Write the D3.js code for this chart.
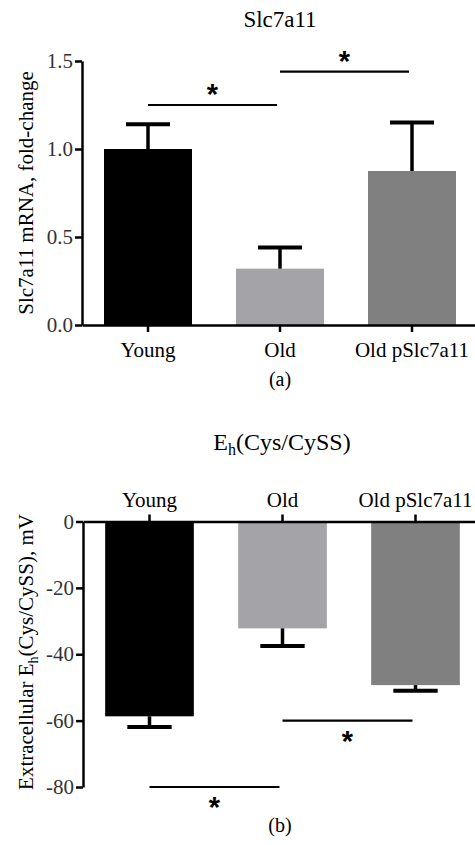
<!DOCTYPE html>
<html><head><meta charset="utf-8">
<script src="https://cdn.jsdelivr.net/npm/d3@7"></script>
<style>body{margin:0;background:#fff}svg{display:block}</style>
</head><body><div id="c"></div>
<script>
const groups = ["Young", "Old", "Old pSlc7a11"];
const colors = ["#000000", "#a4a4a8", "#808080"];
// Panel (a)
const mrnaMean = [1.0, 0.32, 0.875];
const mrnaErr = [1.14, 0.44, 1.15];
const mrnaTicks = [0, 0.5, 1.0, 1.5];
const mrnaSig = [{a: "Young", b: "Old", y: 1.25}, {a: "Old", b: "Old pSlc7a11", y: 1.44}];
// Panel (b)
const ehMean = [-58.7, -32.2, -49.3];
const ehErr = [-61.9, -37.5, -51.0];
const ehTicks = [0, -20, -40, -60, -80];
const ehSig = [{a: "Young", b: "Old", y: -80}, {a: "Old", b: "Old pSlc7a11", y: -60}];

const SERIF = "Liberation Serif";
const W = 475, H = 845;
const svg = d3.select("#c").append("svg").attr("width", W).attr("height", H)
  .attr("font-family", SERIF);

function panel(o) {
  const g = svg.append("g");
  const x = d3.scaleBand().domain(groups).range(o.xr).paddingInner(1/3).paddingOuter(1/6);
  const y = d3.scaleLinear().domain(o.yd).range(o.yr);
  const bw = x.bandwidth();
  g.selectAll("rect.bar").data(groups).join("rect")
    .attr("x", d => x(d)).attr("width", bw)
    .attr("y", (d, i) => Math.min(y(0), y(o.mean[i])))
    .attr("height", (d, i) => Math.abs(y(o.mean[i]) - y(0)))
    .attr("fill", (d, i) => colors[i]);
  groups.forEach((d, i) => {
    const cx = x(d) + bw / 2;
    g.append("line").attr("x1", cx).attr("x2", cx)
      .attr("y1", y(o.mean[i])).attr("y2", y(o.err[i]))
      .attr("stroke", "#000").attr("stroke-width", 3.5);
    g.append("line").attr("x1", cx - bw / 4).attr("x2", cx + bw / 4)
      .attr("y1", y(o.err[i])).attr("y2", y(o.err[i]))
      .attr("stroke", "#000").attr("stroke-width", 4);
  });
  const ya = g.append("g").attr("transform", `translate(${o.xr[0]},0)`)
    .call(d3.axisLeft(y).tickValues(o.ticks).tickFormat(o.fmt).tickSize(7).tickSizeOuter(0).tickPadding(2));
  ya.attr("font-family", SERIF);
  ya.select(".domain").attr("stroke-width", 2.5);
  ya.selectAll(".tick line").attr("stroke-width", 2.5);
  ya.selectAll(".tick text").attr("font-size", 21).attr("fill", "#333").attr("font-family", SERIF);
  const xa = g.append("g").attr("transform", `translate(0,${y(0)})`)
    .call((o.top ? d3.axisTop(x) : d3.axisBottom(x)).tickSize(7).tickSizeOuter(0).tickPadding(o.top ? 8 : 10));
  xa.attr("font-family", SERIF);
  xa.select(".domain").attr("stroke-width", 2.5);
  xa.selectAll(".tick line").attr("stroke-width", 2.5);
  xa.selectAll(".tick text").attr("font-size", 21).attr("fill", "#000").attr("font-family", SERIF);
  o.sig.forEach(s => {
    const x1 = x(s.a) + bw / 2, x2 = x(s.b) + bw / 2 - 3;
    g.append("line").attr("x1", x1).attr("x2", x2).attr("y1", y(s.y)).attr("y2", y(s.y))
      .attr("stroke", "#000").attr("stroke-width", 2.2);
    g.append("text").attr("x", (x1 + x2) / 2).attr("y", y(s.y) + o.starDy)
      .attr("text-anchor", "middle").attr("font-family", "Liberation Sans")
      .attr("font-weight", "bold").attr("font-size", 29).text("*");
  });
  return {x, y};
}

panel({xr: [82, 478], yd: [0, 1.5], yr: [325, 61], mean: mrnaMean, err: mrnaErr, ticks: mrnaTicks,
  fmt: d3.format(".1f"), sig: mrnaSig, top: false, starDy: -1});
panel({xr: [83, 482], yd: [-80, 0], yr: [787, 521.5], mean: ehMean, err: ehErr, ticks: ehTicks,
  fmt: d => String(d), sig: ehSig, top: true, starDy: 30});

svg.append("text").attr("x", 280).attr("y", 27).attr("text-anchor", "middle")
  .attr("font-family", SERIF).attr("font-size", 23).text("Slc7a11");
const t2 = svg.append("text").attr("x", 282).attr("y", 450).attr("text-anchor", "middle")
  .attr("font-family", SERIF).attr("font-size", 24);
t2.append("tspan").text("E");
t2.append("tspan").attr("font-size", 16).attr("dy", 5).text("h");
t2.append("tspan").attr("dy", -5).text("(Cys/CySS)");
svg.append("text").attr("transform", "translate(33,193) rotate(-90)").attr("text-anchor", "middle")
  .attr("font-family", SERIF).attr("font-size", 21).text("Slc7a11 mRNA, fold-change");
const yl = svg.append("text").attr("transform", "translate(33,652) rotate(-90)").attr("text-anchor", "middle")
  .attr("font-family", SERIF).attr("font-size", 21);
yl.append("tspan").text("Extracellular E");
yl.append("tspan").attr("font-size", 14).attr("dy", 5).text("h");
yl.append("tspan").attr("dy", -5).text("(Cys/CySS), mV");
svg.append("text").attr("x", 280).attr("y", 386).attr("text-anchor", "middle")
  .attr("font-family", SERIF).attr("font-size", 20).text("(a)");
svg.append("text").attr("x", 280).attr("y", 832).attr("text-anchor", "middle")
  .attr("font-family", SERIF).attr("font-size", 20).text("(b)");
</script></body></html>
